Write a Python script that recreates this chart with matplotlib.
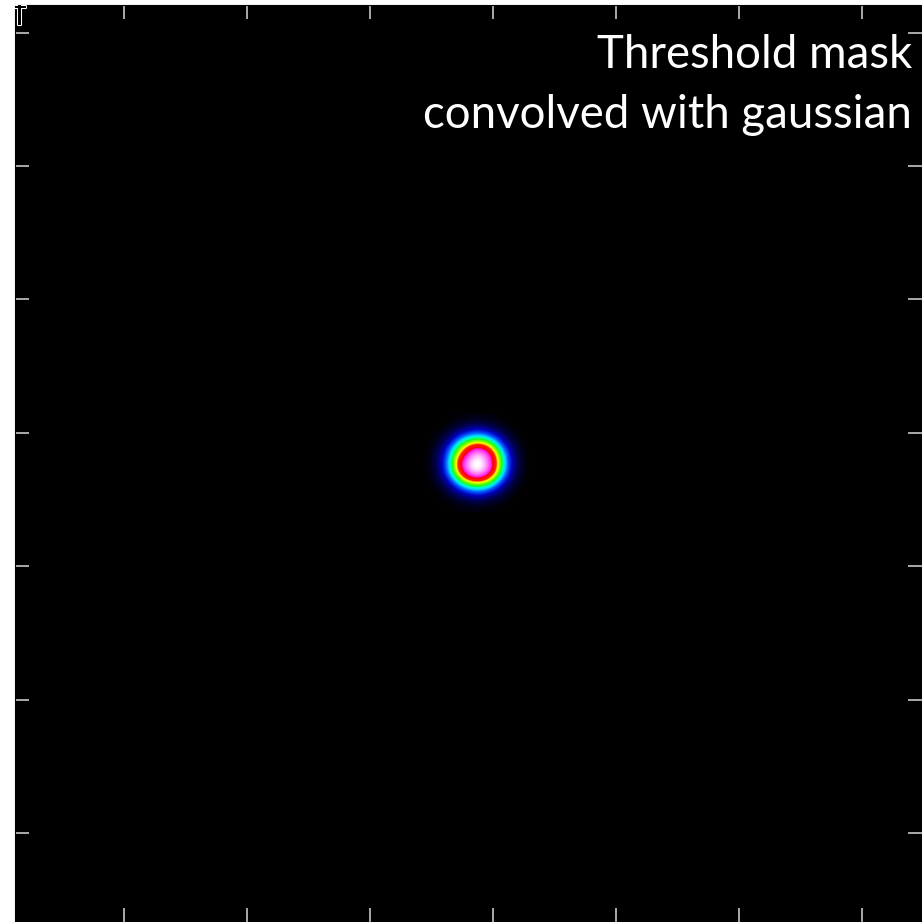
import numpy as np
import matplotlib
matplotlib.use("Agg")
import matplotlib.pyplot as plt
from matplotlib.colors import LinearSegmentedColormap
import matplotlib.patheffects as pe

# Blob intensity (13 x 13 samples, top row first)
blob_rows = [
    [0.00, 0.00, 0.00, 0.00, 0.01, 0.01, 0.02, 0.01, 0.01, 0.00, 0.00, 0.00, 0.00],
    [0.00, 0.00, 0.00, 0.02, 0.04, 0.07, 0.09, 0.07, 0.04, 0.02, 0.00, 0.00, 0.00],
    [0.00, 0.00, 0.02, 0.07, 0.15, 0.23, 0.28, 0.24, 0.15, 0.07, 0.02, 0.00, 0.00],
    [0.00, 0.01, 0.05, 0.16, 0.34, 0.47, 0.52, 0.48, 0.35, 0.16, 0.05, 0.01, 0.00],
    [0.00, 0.02, 0.11, 0.30, 0.52, 0.68, 0.78, 0.72, 0.54, 0.30, 0.11, 0.02, 0.00],
    [0.00, 0.03, 0.15, 0.39, 0.64, 0.82, 0.96, 0.88, 0.68, 0.40, 0.15, 0.03, 0.00],
    [0.00, 0.04, 0.17, 0.43, 0.72, 0.93, 1.00, 0.93, 0.72, 0.43, 0.17, 0.04, 0.00],
    [0.00, 0.03, 0.16, 0.41, 0.69, 0.90, 1.00, 0.91, 0.70, 0.41, 0.16, 0.03, 0.00],
    [0.00, 0.02, 0.11, 0.31, 0.55, 0.73, 0.80, 0.73, 0.55, 0.31, 0.11, 0.02, 0.00],
    [0.00, 0.01, 0.05, 0.16, 0.34, 0.47, 0.52, 0.48, 0.35, 0.16, 0.05, 0.01, 0.00],
    [0.00, 0.00, 0.02, 0.07, 0.15, 0.23, 0.28, 0.24, 0.15, 0.07, 0.02, 0.00, 0.00],
    [0.00, 0.00, 0.00, 0.02, 0.04, 0.07, 0.09, 0.07, 0.04, 0.02, 0.00, 0.00, 0.00],
    [0.00, 0.00, 0.00, 0.00, 0.01, 0.01, 0.02, 0.01, 0.01, 0.00, 0.00, 0.00, 0.00],
]
x_ticks = [0, 1, 2, 3, 4, 5, 6]
y_ticks = [0, 1, 2, 3, 4, 5, 6]
title_lines = ["Threshold mask", "convolved with gaussian"]

cmap = LinearSegmentedColormap.from_list("blobmap", [
    (0.00, (0.0, 0.0, 0.0)),
    (0.10, (0.0, 0.0, 0.35)),
    (0.20, (0.0, 0.0, 0.75)),
    (0.30, (0.0, 0.35, 1.0)),
    (0.38, (0.0, 0.85, 1.0)),
    (0.43, (0.0, 1.0, 0.75)),
    (0.49, (0.1, 1.0, 0.1)),
    (0.55, (0.55, 1.0, 0.0)),
    (0.61, (1.0, 1.0, 0.0)),
    (0.66, (1.0, 0.15, 0.0)),
    (0.75, (1.0, 0.0, 0.05)),
    (0.79, (1.0, 0.1, 0.9)),
    (0.90, (1.0, 0.6, 1.0)),
    (0.97, (1.0, 1.0, 1.0)),
    (1.00, (1.0, 1.0, 1.0)),
])

W = H = 922
fig = plt.figure(figsize=(W / 100, H / 100), dpi=100, facecolor="white")
ax = fig.add_axes([15 / W, 0, 907 / W, 917 / H])
ax.set_facecolor("black")

blob = np.array(blob_rows)
ax.imshow(blob, cmap=cmap, vmin=0, vmax=1, origin="upper",
          extent=[2.398, 3.333, 2.410, 3.152], interpolation="bicubic",
          aspect="auto")

ax.set_xlim(-0.886, 6.488)
ax.set_ylim(-0.667, 6.207)
ax.set_xticks(x_ticks)
ax.set_yticks(y_ticks)
ax.tick_params(which="both", direction="in", length=10, width=1.1,
               color="#d8d8d8", top=True, right=True,
               labelbottom=False, labelleft=False)
for s in ax.spines.values():
    s.set_color("black")

# small outlined marker in the top-left corner
ax.text(0.005, 1 + 6 / 917, "\u2020", transform=ax.transAxes, fontsize=22,
        color="black", ha="center", va="top", clip_on=True,
        path_effects=[pe.withStroke(linewidth=1.5, foreground="white")])

fam = ["Lato", "DejaVu Sans"]
t1 = fig.text(912 / W, 1 - 68 / H, title_lines[0], color="white",
              fontsize=36, family=fam, ha="right", va="baseline")
t2 = fig.text(912 / W, 1 - 128 / H, title_lines[1], color="white",
              fontsize=36, family=fam, ha="right", va="baseline")
fig.canvas.draw()
r = fig.canvas.get_renderer()
wid = t2.get_window_extent(r).width
fs = 36 * 489 / wid
t1.set_fontsize(fs)
t2.set_fontsize(fs)

fig.savefig("out.png", dpi=100, facecolor="white")
